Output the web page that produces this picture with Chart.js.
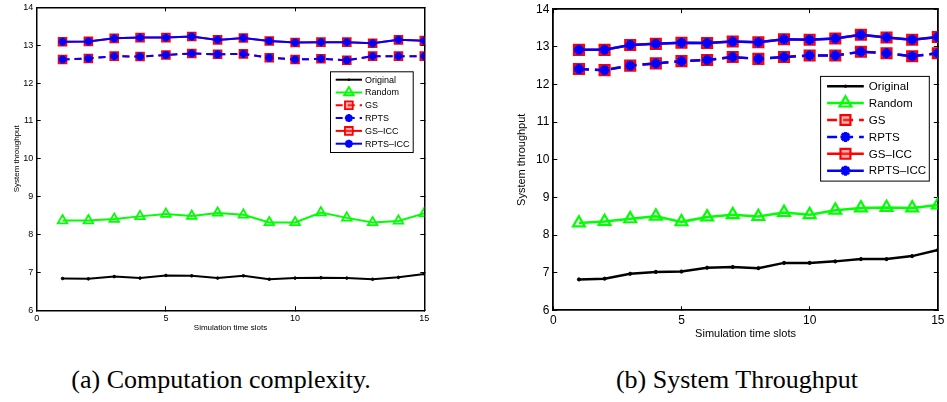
<!DOCTYPE html>
<html>
<head>
<meta charset="utf-8">
<script src="https://cdn.jsdelivr.net/npm/chart.js"></script>
<style>
  html, body { margin: 0; padding: 0; background: #fff; width: 947px; height: 402px; overflow: hidden; }
  canvas { position: absolute; }
  .cap { position: absolute; font-family: "Liberation Serif", "Times New Roman", serif; font-size: 26px; line-height: 26px; white-space: nowrap; color: #000; transform: translateX(-50%); }
</style>
</head>
<body>
<canvas id="ca" width="440" height="340" style="left:0px;top:0px;width:440px;height:340px"></canvas>
<canvas id="cb" width="467" height="345" style="left:480px;top:0px;width:467px;height:345px"></canvas>
<div class="cap" style="left:221px;top:367px">(a) Computation complexity.</div>
<div class="cap" style="left:737px;top:367px">(b) System Throughput</div>
<script>
// ---------------- data ----------------
const slots = [1, 2, 3, 4, 5, 6, 7, 8, 9, 10, 11, 12, 13, 14, 15];
const seriesNames = ["Original", "Random", "GS", "RPTS", "GS\u2013ICC", "RPTS\u2013ICC"];
const xTickValues = [0, 5, 10, 15];
const yTickValues = [6, 7, 8, 9, 10, 11, 12, 13, 14];
const xTitle = "Simulation time slots";
const yTitle = "System throughput";

// (a)
const originalA = [6.84, 6.83, 6.89, 6.85, 6.92, 6.91, 6.85, 6.91, 6.82, 6.85, 6.86, 6.85, 6.82, 6.87, 6.96];
const randomA   = [8.37, 8.37, 8.41, 8.48, 8.54, 8.49, 8.57, 8.52, 8.32, 8.32, 8.58, 8.44, 8.32, 8.36, 8.56];
const gsA       = [12.62, 12.65, 12.71, 12.70, 12.74, 12.78, 12.76, 12.77, 12.67, 12.62, 12.64, 12.60, 12.71, 12.71, 12.71];
const rptsA     = [12.62, 12.65, 12.71, 12.70, 12.74, 12.78, 12.76, 12.77, 12.67, 12.62, 12.64, 12.60, 12.71, 12.71, 12.71];
const gsIccA    = [13.09, 13.10, 13.18, 13.20, 13.20, 13.23, 13.14, 13.19, 13.11, 13.07, 13.08, 13.08, 13.05, 13.14, 13.12];
const rptsIccA  = [13.09, 13.10, 13.18, 13.20, 13.20, 13.23, 13.14, 13.19, 13.11, 13.07, 13.08, 13.08, 13.05, 13.14, 13.12];

// (b)
const originalB = [6.82, 6.84, 6.97, 7.02, 7.03, 7.13, 7.15, 7.12, 7.26, 7.26, 7.30, 7.36, 7.36, 7.44, 7.60];
const randomB   = [8.32, 8.36, 8.43, 8.50, 8.35, 8.48, 8.54, 8.49, 8.60, 8.54, 8.66, 8.72, 8.73, 8.72, 8.80];
const gsB       = [12.41, 12.38, 12.50, 12.56, 12.62, 12.65, 12.73, 12.68, 12.73, 12.77, 12.77, 12.87, 12.83, 12.75, 12.83];
const rptsB     = [12.41, 12.38, 12.50, 12.56, 12.62, 12.65, 12.73, 12.68, 12.73, 12.77, 12.77, 12.87, 12.83, 12.75, 12.83];
const gsIccB    = [12.92, 12.92, 13.05, 13.08, 13.11, 13.10, 13.14, 13.12, 13.20, 13.19, 13.22, 13.32, 13.25, 13.19, 13.26];
const rptsIccB  = [12.92, 12.92, 13.05, 13.08, 13.11, 13.10, 13.14, 13.12, 13.20, 13.19, 13.22, 13.32, 13.25, 13.19, 13.26];

// ---------------- helpers ----------------
function pts(vals) { return slots.map((x, i) => ({ x: x, y: vals[i] })); }

function drawMarker(ctx, style, r, bw, stroke, fill, x, y) {
  ctx.save();
  ctx.lineWidth = bw;
  ctx.strokeStyle = stroke;
  ctx.fillStyle = fill;
  ctx.setLineDash([]);
  ctx.beginPath();
  if (style === 'rect') {
    const s = Math.SQRT1_2 * r;
    ctx.rect(x - s, y - s, 2 * s, 2 * s);
    ctx.fill(); ctx.stroke();
  } else if (style === 'triangle') {
    for (let k = 0; k < 3; k++) {
      const a = k * 2 * Math.PI / 3;
      const px = x + Math.sin(a) * r, py = y - Math.cos(a) * r;
      if (k === 0) ctx.moveTo(px, py); else ctx.lineTo(px, py);
    }
    ctx.closePath();
    ctx.fill(); ctx.stroke();
  } else if (style === 'star') {
    for (let k = 0; k < 4; k++) {
      const a = k * Math.PI / 4;
      ctx.moveTo(x + Math.cos(a) * r, y + Math.sin(a) * r);
      ctx.lineTo(x - Math.cos(a) * r, y - Math.sin(a) * r);
    }
    ctx.stroke();
  } else {
    ctx.arc(x, y, r, 0, Math.PI * 2);
    ctx.fillStyle = stroke;
    ctx.fill();
  }
  ctx.restore();
}

const boxLegend = {
  id: 'boxLegend',
  afterDraw(chart, args, o) {
    const ctx = chart.ctx;
    const ca = chart.chartArea;
    const x0 = ca.right - o.fromRight, y0 = ca.top + o.fromTop;
    ctx.save();
    ctx.fillStyle = '#fff';
    ctx.fillRect(x0, y0, o.w, o.h);
    ctx.lineWidth = 1;
    ctx.strokeStyle = '#000';
    ctx.strokeRect(x0 + 0.5, y0 + 0.5, o.w, o.h);
    chart.data.datasets.forEach((ds, i) => {
      const y = y0 + o.firstRow + i * o.rowH;
      const lx0 = x0 + o.linePad, lx1 = lx0 + o.lineLen;
      ctx.save();
      ctx.strokeStyle = ds.borderColor;
      ctx.lineWidth = ds.borderWidth;
      ctx.setLineDash(ds.borderDash || []);
      ctx.beginPath();
      ctx.moveTo(lx0, y); ctx.lineTo(lx1, y);
      ctx.stroke();
      ctx.restore();
      drawMarker(ctx, ds.pointStyle, ds.pointRadius, ds.pointBorderWidth, ds.pointBorderColor, ds.pointBackgroundColor, (lx0 + lx1) / 2, y);
      ctx.fillStyle = '#000';
      ctx.font = o.fontSize + 'px "Liberation Sans", Arial, sans-serif';
      ctx.textBaseline = 'middle';
      ctx.textAlign = 'left';
      ctx.fillText(ds.label, lx1 + o.textGap, y + 0.5);
    });
    ctx.restore();
  }
};

function makeDatasets(vals, s) {
  const dash = s.dash;
  return [
    { label: seriesNames[0], data: pts(vals[0]), borderColor: '#000', borderWidth: s.lw, pointStyle: 'circle', pointRadius: s.dot, pointBorderWidth: 1, pointBorderColor: '#000', pointBackgroundColor: '#000', order: 2 },
    { label: seriesNames[1], data: pts(vals[1]), borderColor: '#00ff00', borderWidth: s.lw, pointStyle: 'triangle', pointRadius: s.tri, pointBorderWidth: s.mbw, pointBorderColor: '#00ff00', pointBackgroundColor: 'rgba(255,255,255,0)', order: 2 },
    { label: seriesNames[2], data: pts(vals[2]), borderColor: '#ff0000', borderWidth: s.lw, borderDash: dash, pointStyle: 'rect', pointRadius: s.sq, pointBorderWidth: s.mbw, pointBorderColor: '#ff0000', pointBackgroundColor: 'rgba(255,80,80,0.45)', order: 2 },
    { label: seriesNames[3], data: pts(vals[3]), borderColor: '#0000ff', borderWidth: s.lw, borderDash: dash, pointStyle: 'star', pointRadius: s.star, pointBorderWidth: s.sbw, pointBorderColor: '#0000ff', pointBackgroundColor: '#0000ff', order: 1 },
    { label: seriesNames[4], data: pts(vals[4]), borderColor: '#ff0000', borderWidth: s.lw, pointStyle: 'rect', pointRadius: s.sq, pointBorderWidth: s.mbw, pointBorderColor: '#ff0000', pointBackgroundColor: 'rgba(255,80,80,0.45)', order: 2 },
    { label: seriesNames[5], data: pts(vals[5]), borderColor: '#0000ff', borderWidth: s.lw, pointStyle: 'star', pointRadius: s.star, pointBorderWidth: s.sbw, pointBorderColor: '#0000ff', pointBackgroundColor: '#0000ff', order: 1 }
  ];
}

function zeroPad(sc) { sc.paddingTop = 0; sc.paddingBottom = 0; sc.paddingLeft = 0; sc.paddingRight = 0; }

function makeChart(id, vals, s) {
  const fontFam = '"Liberation Sans", Arial, sans-serif';
  const tl = -s.tick;
  const setX = sc => { sc.ticks = xTickValues.map(v => ({ value: v })); };
  const setY = sc => { sc.ticks = yTickValues.map(v => ({ value: v })); };
  const grid = { drawOnChartArea: false, drawTicks: true, tickLength: tl, color: '#000', lineWidth: 1 };
  const border = { display: true, color: '#000', width: s.axw };
  return new Chart(document.getElementById(id), {
    type: 'line',
    data: { datasets: makeDatasets(vals, s) },
    options: {
      responsive: false,
      animation: false,
      devicePixelRatio: 1,
      layout: { padding: { left: 0, top: s.padTop, right: s.padRight, bottom: 0 } },
      elements: { line: { tension: 0, fill: false } },
      plugins: { legend: { display: false }, tooltip: { enabled: false }, boxLegend: s.legend },
      scales: {
        x: {
          type: 'linear', position: 'bottom', min: 0, max: 15,
          afterBuildTicks: setX,
          afterFit: sc => { sc.height = s.xAxisH; zeroPad(sc); },
          grid: grid, border: border,
          ticks: { padding: s.tick + s.xGap, color: '#000', font: { family: fontFam, size: s.tickFont }, maxRotation: 0 },
          title: { display: true, text: xTitle, color: '#000', font: { family: fontFam, size: s.titleFont }, padding: { top: 0, bottom: s.xTitlePad } }
        },
        y: {
          type: 'linear', position: 'left', min: 6, max: 14,
          afterBuildTicks: setY,
          afterFit: sc => { sc.width = s.yAxisW; zeroPad(sc); },
          grid: grid, border: border,
          ticks: { padding: s.tick + s.yGap, color: '#000', font: { family: fontFam, size: s.tickFont } },
          title: { display: true, text: yTitle, color: '#000', font: { family: fontFam, size: s.titleFont }, padding: { top: s.yTitlePad, bottom: 0 } }
        },
        x2: {
          type: 'linear', position: 'top', min: 0, max: 15,
          afterBuildTicks: setX,
          afterFit: sc => { sc.height = 0; zeroPad(sc); },
          grid: grid, border: border,
          ticks: { display: false }
        },
        y2: {
          type: 'linear', position: 'right', min: 6, max: 14,
          afterBuildTicks: setY,
          afterFit: sc => { sc.width = 0; zeroPad(sc); },
          grid: grid, border: border,
          ticks: { display: false }
        }
      }
    },
    plugins: [boxLegend]
  });
}

makeChart('ca', [originalA, randomA, gsA, rptsA, gsIccA, rptsIccA], {
  lw: 2, dash: [7, 5], dot: 1.3, tri: 5.5, sq: 5.5, star: 4, mbw: 1.8, sbw: 2.5,
  tick: 4, axw: 1.5, padTop: 5.3, padRight: 15.7, xAxisH: 29.7, yAxisW: 36.7,
  tickFont: 9, titleFont: 8, xGap: 3.3, yGap: 3.4, xTitlePad: 7.6, yTitlePad: 11.5,
  legend: { fromRight: 94.3, fromTop: 64, w: 82.7, h: 80.7, firstRow: 8.4, rowH: 12.8, linePad: 5.7, lineLen: 26.3, textGap: 3, fontSize: 9 }
});

makeChart('cb', [originalB, randomB, gsB, rptsB, gsIccB, rptsIccB], {
  lw: 2.5, dash: [10, 6], dot: 1.6, tri: 6.8, sq: 7, star: 5, mbw: 2.2, sbw: 3,
  tick: 4, axw: 1.8, padTop: 5.3, padRight: 7, xAxisH: 34.7, yAxisW: 73.3,
  tickFont: 12, titleFont: 11, xGap: 3.5, yGap: 4, xTitlePad: 4.4, yTitlePad: 35.4,
  legend: { fromRight: 117.7, fromTop: 66.7, w: 108.7, h: 104.7, firstRow: 10.3, rowH: 16.9, linePad: 7, lineLen: 36.7, textGap: 5, fontSize: 11.6 }
});
</script>
</body>
</html>
